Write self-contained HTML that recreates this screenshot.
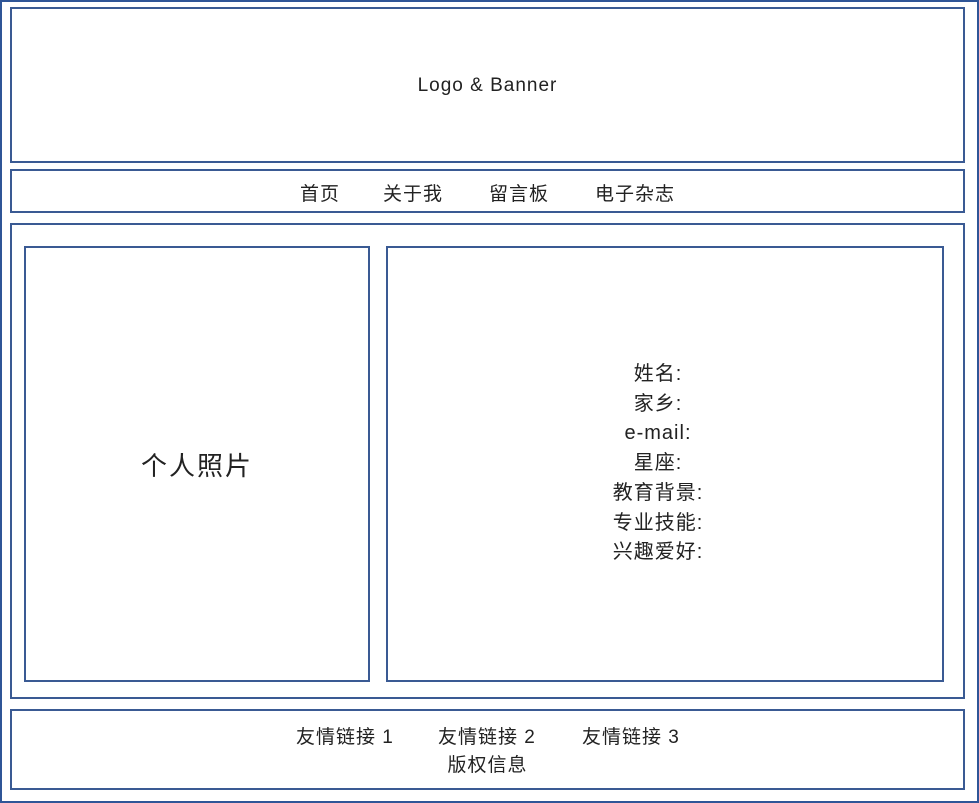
<!DOCTYPE html>
<html><head><meta charset="utf-8"><style>
body{margin:0;width:979px;height:803px;background:#fff;position:relative;overflow:hidden;font-family:"Liberation Sans","Noto Sans CJK SC",sans-serif;color:#222}
.b{position:absolute;border:2px solid #3a5a93;box-sizing:border-box}
.t{position:absolute;text-align:center;white-space:nowrap;letter-spacing:1px}
</style></head><body>
<div class="b" style="left:0;top:0;width:979px;height:803px;border-color:#2f5597"></div>
<div class="b" style="left:10px;top:7px;width:955px;height:156px"></div>
<div class="t" style="left:10px;width:955px;top:75px;font-size:19px">Logo &amp; Banner</div>
<div class="b" style="left:10px;top:169px;width:955px;height:44px"></div>
<div class="t" style="left:300px;top:179px;font-size:19px">首页</div>
<div class="t" style="left:383px;top:179px;font-size:19px">关于我</div>
<div class="t" style="left:489px;top:179px;font-size:19px">留言板</div>
<div class="t" style="left:595px;top:179px;font-size:19px">电子杂志</div>
<div class="b" style="left:10px;top:223px;width:955px;height:476px"></div>
<div class="b" style="left:24px;top:246px;width:346px;height:436px"></div>
<div class="t" style="left:24px;width:346px;top:446px;font-size:26px;letter-spacing:2px">个人照片</div>
<div class="b" style="left:386px;top:246px;width:558px;height:436px"></div>
<div class="t" style="left:386px;width:544px;top:360px;font-size:20px;line-height:29.7px">姓名:<br>家乡:<br>e-mail:<br>星座:<br>教育背景:<br>专业技能:<br>兴趣爱好:</div>
<div class="b" style="left:10px;top:709px;width:955px;height:81px"></div>
<div class="t" style="left:296px;top:722px;font-size:19px">友情链接 1</div>
<div class="t" style="left:438px;top:722px;font-size:19px">友情链接 2</div>
<div class="t" style="left:582px;top:722px;font-size:19px">友情链接 3</div>
<div class="t" style="left:10px;width:955px;top:750px;font-size:19px">版权信息</div>
</body></html>
